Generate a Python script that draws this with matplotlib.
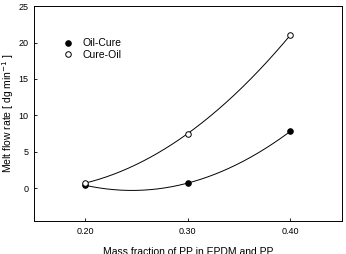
import numpy as np
import matplotlib
matplotlib.use("Agg")
import matplotlib.pyplot as plt

plt.rcParams['font.family'] = ['Liberation Sans', 'DejaVu Sans']

x = [0.20, 0.30, 0.40]
oil_cure = [0.4, 0.7, 7.8]
cure_oil = [0.7, 7.5, 21.0]
xticks = [0.20, 0.30, 0.40]
xtick_labels = ["0.20", "0.30", "0.40"]
yticks = [0, 5, 10, 15, 20, 25]

fig = plt.figure(figsize=(3.46, 2.54), dpi=100)
ax = fig.add_axes([0.098, 0.13, 0.889, 0.846])

xs = np.linspace(0.20, 0.40, 200)
for ys in (oil_cure, cure_oil):
    p = np.polyfit(x, ys, 2)
    ax.plot(xs, np.polyval(p, xs), color='black', lw=0.7)

ax.plot(x, oil_cure, 'o', color='black', mfc='black', ms=4, mew=0.7, label='Oil-Cure')
ax.plot(x, cure_oil, 'o', color='black', mfc='white', ms=4, mew=0.7, label='Cure-Oil')

ax.set_xlim(0.15, 0.45)
ax.set_ylim(-4.5, 25)
ax.set_xticks(xticks)
ax.set_xticklabels(xtick_labels)
ax.set_yticks(yticks)
ax.tick_params(direction='in', length=2.5, width=0.6, labelsize=6.5, pad=4, top=False, right=False)
for s in ax.spines.values():
    s.set_linewidth(0.7)

ax.set_xlabel('Mass fraction of PP in EPDM and PP', fontsize=7.5, labelpad=8)
ax.set_ylabel(r'Melt flow rate [ dg min$^{-1}$ ]', fontsize=7.5, labelpad=2)

ax.legend(loc='upper left', bbox_to_anchor=(0.08, 0.87), frameon=False, fontsize=7.5,
          handletextpad=0.9, labelspacing=0.15, borderaxespad=0, handlelength=1.0)

fig.savefig('out.png', dpi=100)
